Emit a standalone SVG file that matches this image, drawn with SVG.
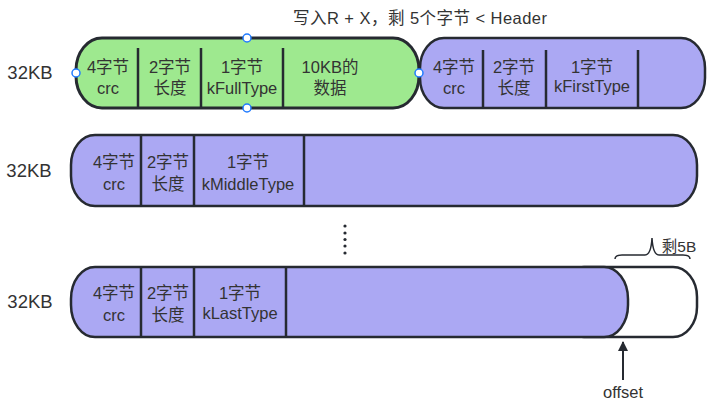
<svg xmlns="http://www.w3.org/2000/svg" width="717" height="406" viewBox="0 0 717 406">
<style>
text{font-family:"Liberation Sans","Noto Sans CJK SC",sans-serif;fill:#333;font-size:16.5px;text-anchor:middle}
.lbl{font-size:18.5px}
.g{fill:#9ee98f;stroke:#262a31;stroke-width:3}
.p{fill:#aba8f3;stroke:#262a31;stroke-width:2.5}
.w{fill:#fff;stroke:#262a31;stroke-width:2.5}
.d{stroke:#262a31;stroke-width:2.5}
.h{fill:#fff;stroke:#1f7bff;stroke-width:1.5}
</style>
<defs><marker id="ah" viewBox="0 0 10 10" refX="9" refY="5" markerWidth="10" markerHeight="10" markerUnits="userSpaceOnUse" orient="auto"><path d="M0,0 L10,5 L0,10 z" fill="#262a31"/></marker></defs>
<text x="420" y="24" textLength="254" lengthAdjust="spacing">写入R + X，剩 5个字节 &lt; Header</text>
<text class="lbl" x="30" y="79">32KB</text>
<text class="lbl" x="29" y="177">32KB</text>
<text class="lbl" x="30" y="308">32KB</text>
<g id="row1-next">
<rect class="p" x="420" y="38" width="285" height="70" rx="24" ry="30"/>
<line class="d" x1="483" y1="50" x2="483" y2="108"/>
<line class="d" x1="546" y1="50" x2="546" y2="108"/>
<line class="d" x1="638" y1="50" x2="638" y2="108"/>
<text x="454" y="73">4字节</text><text x="454" y="94">crc</text>
<text x="514" y="73">2字节</text><text x="514" y="94">长度</text>
<text x="592" y="73">1字节</text><text x="592" y="92">kFirstType</text>
</g>
<g id="row1-full">
<rect class="g" x="76" y="38" width="343" height="70" rx="26" ry="32"/>
<line class="d" x1="138" y1="48" x2="138" y2="108"/>
<line class="d" x1="201" y1="48" x2="201" y2="108"/>
<line class="d" x1="283" y1="48" x2="283" y2="108"/>
<text x="108" y="73">4字节</text><text x="108" y="94">crc</text>
<text x="170" y="73">2字节</text><text x="170" y="94">长度</text>
<text x="242" y="73">1字节</text><text x="242" y="94">kFullType</text>
<text x="330" y="73">10KB的</text><text x="330" y="94">数据</text>
<circle class="h" cx="247" cy="38" r="4"/>
<circle class="h" cx="247" cy="108" r="4"/>
<circle class="h" cx="76" cy="73" r="4"/>
<circle class="h" cx="419" cy="73" r="4"/>
</g>
<g id="row2">
<rect class="p" x="71" y="135" width="626" height="71" rx="24" ry="30"/>
<line class="d" x1="141" y1="135" x2="141" y2="206"/>
<line class="d" x1="194" y1="135" x2="194" y2="206"/>
<line class="d" x1="304" y1="135" x2="304" y2="206"/>
<text x="114" y="168">4字节</text><text x="114" y="190">crc</text>
<text x="168" y="168">2字节</text><text x="168" y="190">长度</text>
<text x="248" y="168">1字节</text><text x="248" y="190">kMiddleType</text>
</g>
<g id="dots" fill="#262a31">
<circle cx="345" cy="226" r="1.6"/><circle cx="345" cy="233" r="1.6"/><circle cx="345" cy="239.5" r="1.6"/><circle cx="345" cy="246" r="1.6"/><circle cx="345" cy="253" r="1.6"/>
</g>
<g id="row3-rest">
<rect class="w" x="560" y="267" width="137" height="70" rx="24" ry="30"/>
</g>
<g id="row3">
<rect class="p" x="71" y="267" width="557" height="70" rx="24" ry="32"/>
<line class="d" x1="141" y1="267" x2="141" y2="337"/>
<line class="d" x1="194" y1="267" x2="194" y2="337"/>
<line class="d" x1="286" y1="267" x2="286" y2="337"/>
<text x="114" y="299">4字节</text><text x="114" y="321">crc</text>
<text x="168" y="299">2字节</text><text x="168" y="321">长度</text>
<text x="240" y="299">1字节</text><text x="240" y="319">kLastType</text>
</g>
<g id="connectors">
<path d="M615,259 Q615,255 622,255 L645,255 Q651,255 652,238 Q653,255 659,255 L683,255 Q690,255 690,259" fill="none" stroke="#262a31" stroke-width="1.5"/>
<line x1="623" y1="380" x2="623" y2="342" stroke="#262a31" stroke-width="2" marker-end="url(#ah)"/>
</g>
<text x="679" y="252" style="font-size:15.5px">剩5B</text>
<text x="623" y="398">offset</text>
</svg>
